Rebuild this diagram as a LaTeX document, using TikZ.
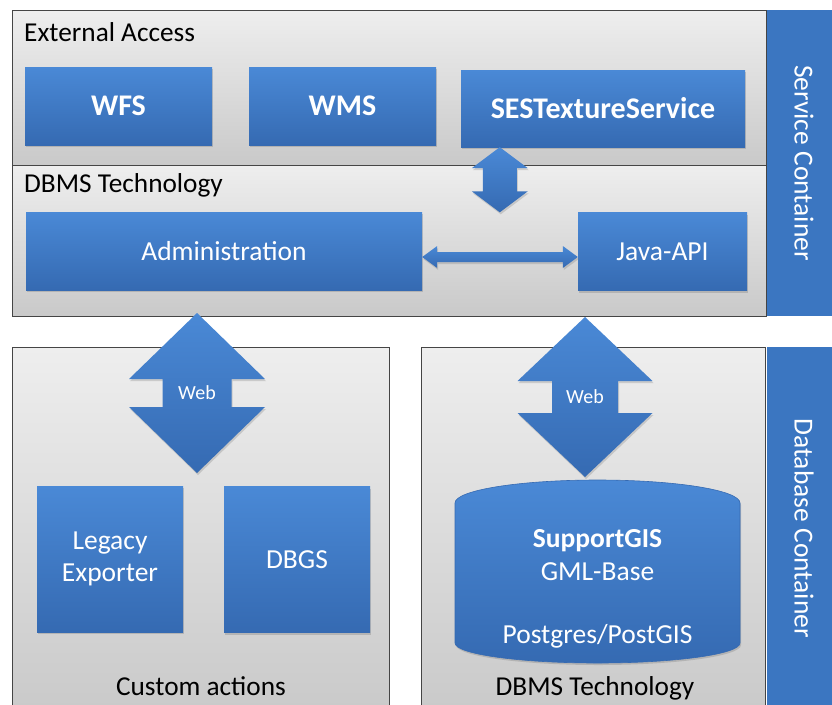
\documentclass[tikz,border=0pt]{standalone}
\usepackage{fontspec}
\setmainfont{Carlito}
\usetikzlibrary{calc}
\usetikzlibrary{shadows}

\definecolor{boxtop}{HTML}{4A89D6}
\definecolor{boxbot}{HTML}{356AB2}
\definecolor{barblue}{HTML}{3B76C1}
\definecolor{frame}{HTML}{454545}
\definecolor{paneltop}{HTML}{EEEEEE}
\definecolor{panelbot}{HTML}{C9C9C9}

% double block arrow, vertical: top tip, bottom tip, shaft half, head half, head length
\newcommand{\vtwoway}[5]{%
  \path[arrowblue] (#1) -- ++(#4,#5) -- ++({-#4+#3},0) -- ($(#2)+(#3,-#5)$)
    -- ++({#4-#3},0) -- (#2) -- ++(-#4,-#5) -- ++({#4-#3},0)
    -- ($(#1)+(-#3,#5)$) -- ++({-#4+#3},0) -- cycle;}
% double block arrow, horizontal: left tip, right tip, shaft half, head half, head length
\newcommand{\htwoway}[5]{%
  \path[arrowblue] (#1) -- ++(#5,-#4) -- ++(0,{#4-#3}) -- ($(#2)+(-#5,-#3)$)
    -- ++(0,{-#4+#3}) -- (#2) -- ++(-#5,#4) -- ++(0,{-#4+#3})
    -- ($(#1)+(#5,#3)$) -- ++(0,{#4-#3}) -- cycle;}

\begin{document}
\begin{tikzpicture}[
    x=1pt, y=-1pt,
    panel/.style={draw=frame, line width=1pt, top color=paneltop, bottom color=panelbot,
      anchor=north west, inner sep=0pt},
    box/.style={top color=boxtop, bottom color=boxbot, text=white, inner sep=0pt,
      align=center, font=\fontsize{27.5}{32}\selectfont,
      drop shadow={opacity=0.35, shadow xshift=1pt, shadow yshift=-2pt}},
    boldbox/.style={box, font=\fontsize{30}{32}\selectfont\bfseries},
    bar/.style={fill=barblue, text=white, inner sep=0pt, rotate=-90,
      font=\fontsize{27.5}{32}\selectfont},
    arrowblue/.style={top color=boxtop, bottom color=boxbot,
      drop shadow={opacity=0.3, shadow xshift=1pt, shadow yshift=-2pt}},
    caption/.style={font=\fontsize{27.3}{30}\selectfont, text=black, inner sep=0pt}
  ]
  \useasboundingbox (0,0) rectangle (832,704);
  \fill[white] (0,0) rectangle (832,704);

  % service container
  \node[panel, minimum width=754pt, minimum height=155pt] (extpanel) at (12,10) {};
  \node[panel, minimum width=754pt, minimum height=151pt] (techpanel) at (12,165) {};
  \node[bar, minimum width=306pt, minimum height=74pt] (svcbar) at (804,163) {Service Container};
  \node[caption, anchor=base west] (extlabel) at (24,41) {External Access};
  \node[caption, anchor=base west] (techlabel) at (24,192) {DBMS Technology};

  \node[boldbox, minimum width=187pt, minimum height=78pt] (wfs) at (118.5,106) {WFS};
  \node[boldbox, minimum width=187pt, minimum height=78pt] (wms) at (342.5,106) {WMS};
  \node[boldbox, minimum width=284pt, minimum height=77pt] (ses) at (603,108.5) {SESTextureService};
  \node[box, minimum width=396pt, minimum height=78pt] (admin) at (224,251) {Administration};
  \node[box, minimum width=169pt, minimum height=78pt] (javaapi) at (662.5,251.5) {Java-API};

  \coordinate (apiup) at ($(ses.south west)+(39,0)$);
  \coordinate (apidown) at (apiup |- javaapi.north);
  \vtwoway{apiup}{apidown}{17}{28}{21}
  \coordinate (admright) at ($(admin.east)+(0,6)$);
  \coordinate (apileft) at ($(javaapi.west)+(0,5.5)$);
  \htwoway{admright}{apileft}{5}{11}{15}

  % database container
  \node[panel, minimum width=377pt, minimum height=370pt] (custpanel) at (12,347) {};
  \node[panel, minimum width=344pt, minimum height=370pt] (dbpanel) at (421,347) {};
  \node[bar, minimum width=362pt, minimum height=74pt] (dbbar) at (804,528) {Database Container};
  \node[caption, anchor=base] (custlabel) at (201,695) {Custom actions};
  \node[caption, anchor=base] (dblabel) at (595,695) {DBMS Technology};

  \node[box, minimum width=146pt, minimum height=146pt] (legacy) at (110,559) {Legacy\\Exporter};
  \node[box, minimum width=146pt, minimum height=146pt] (dbgs) at (297,559.5) {DBGS};

  \path[top color=boxtop, bottom color=boxbot, draw=boxbot, line width=0.6pt,
      drop shadow={opacity=0.35, shadow xshift=1pt, shadow yshift=-2pt}]
    (455,503) arc[start angle=180, end angle=0, x radius=142.5pt, y radius=23pt]
    -- (740,643) arc[start angle=0, end angle=-180, x radius=142.5pt, y radius=20pt] -- cycle;
  \node[text=white, font=\fontsize{27.5}{32}\selectfont\bfseries, anchor=base, inner sep=0pt]
    (gistitle) at (597.5,547) {SupportGIS};
  \node[text=white, font=\fontsize{27.5}{32}\selectfont, anchor=base, inner sep=0pt]
    (gisbase) at (597.5,580) {GML-Base};
  \node[text=white, font=\fontsize{27.5}{32}\selectfont, anchor=base, inner sep=0pt]
    (gisdb) at (597.5,643) {Postgres/PostGIS};

  % web links
  \coordinate (webltop) at (197,313);
  \coordinate (weblbot) at (197,473);
  \vtwoway{webltop}{weblbot}{34.5}{68}{66}
  \node[text=white, font=\fontsize{20}{24}\selectfont] (webl) at (197,393) {Web};
  \coordinate (webrtop) at (585,317);
  \coordinate (webrbot) at (585,477);
  \vtwoway{webrtop}{webrbot}{33}{67.5}{64}
  \node[text=white, font=\fontsize{20}{24}\selectfont] (webr) at (585,397) {Web};
\end{tikzpicture}
\end{document}
